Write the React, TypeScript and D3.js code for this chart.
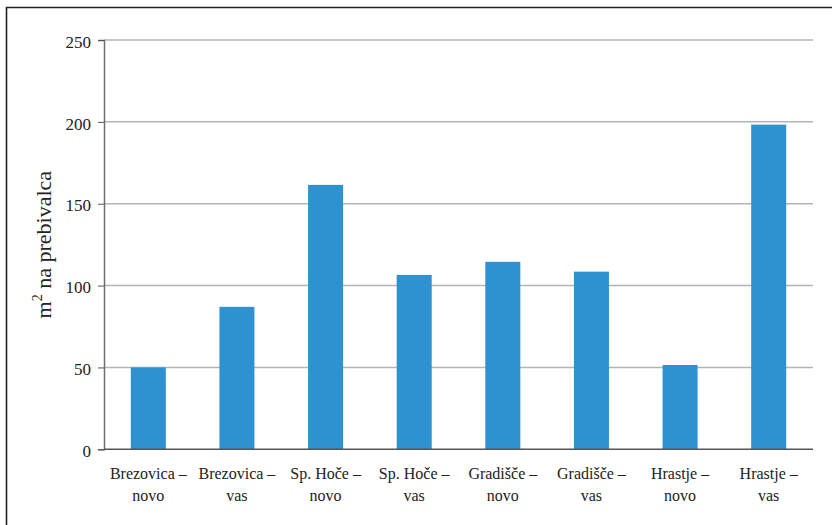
import React, { useEffect, useRef } from "react";
import * as d3 from "d3";

const categories: string[][] = [
  ["Brezovica –", "novo"],
  ["Brezovica –", "vas"],
  ["Sp. Hoče –", "novo"],
  ["Sp. Hoče –", "vas"],
  ["Gradišče –", "novo"],
  ["Gradišče –", "vas"],
  ["Hrastje –", "novo"],
  ["Hrastje –", "vas"],
];
const values: number[] = [50, 87, 161.5, 106.5, 114.5, 108.5, 51.5, 198.3];
const yTicks: number[] = [0, 50, 100, 150, 200, 250];

const W = 832;
const H = 525;
const margin = { left: 104, right: 19, top: 40, bottom: 75.7 };
const FONT = "Liberation Serif, Tinos, Times New Roman, DejaVu Serif, serif";

export default function App() {
  const ref = useRef<SVGSVGElement>(null);

  useEffect(() => {
    const svg = d3.select(ref.current);
    svg.selectAll("*").remove();

    const x0 = margin.left;
    const x1 = W - margin.right;
    const y0 = H - margin.bottom;
    const y1 = margin.top;

    const keys = categories.map((c) => c.join(" "));
    const x = d3.scaleBand<string>().domain(keys).range([x0, x1]).paddingInner(0.605).paddingOuter(0.3025);
    const y = d3.scaleLinear().domain([0, 250]).range([y0, y1]);

    // outer frame
    svg
      .append("path")
      .attr("d", `M6.5,${H + 2} L6.5,7.5 L${W + 2},7.5`)
      .attr("fill", "none")
      .attr("stroke", "#222")
      .attr("stroke-width", 1.6);

    // gridlines
    svg
      .append("g")
      .selectAll("line")
      .data(yTicks.filter((t) => t > 0))
      .join("line")
      .attr("x1", x0)
      .attr("x2", x1)
      .attr("y1", (d) => y(d))
      .attr("y2", (d) => y(d))
      .attr("stroke", "#b4b4b4")
      .attr("stroke-width", 1.5);

    // bars
    svg
      .append("g")
      .selectAll("rect")
      .data(values)
      .join("rect")
      .attr("x", (_, i) => x(keys[i]) as number)
      .attr("width", x.bandwidth())
      .attr("y", (d) => y(d))
      .attr("height", (d) => y(0) - y(d))
      .attr("fill", "#2e91d0");

    // y axis
    const yAxis = d3
      .axisLeft(y)
      .tickValues(yTicks)
      .tickSize(6)
      .tickPadding(7)
      .tickFormat((d) => String(d));
    const ga = svg.append("g").attr("transform", `translate(${x0},0)`).call(yAxis);
    ga.attr("font-family", null).attr("font-size", null);
    ga.select(".domain").attr("stroke", "#6e6e6e").attr("stroke-width", 1.5);
    ga.selectAll(".tick line").attr("stroke", "#555").attr("stroke-width", 1);
    ga.selectAll(".tick text")
      .style("font-family", FONT)
      .style("font-size", "17px")
      .attr("fill", "#222")
      .attr("dy", "0.42em");

    // x baseline
    svg
      .append("line")
      .attr("x1", x0)
      .attr("x2", x1)
      .attr("y1", y0)
      .attr("y2", y0)
      .attr("stroke", "#555")
      .attr("stroke-width", 1.5);

    // category labels
    const lab = svg
      .append("g")
      .selectAll("text")
      .data(categories)
      .join("text")
      .attr("x", (_, i) => (x(keys[i]) as number) + x.bandwidth() / 2)
      .attr("y", 479)
      .attr("text-anchor", "middle")
      .style("font-family", FONT)
      .style("font-size", "16px")
      .attr("fill", "#222");
    lab
      .selectAll("tspan")
      .data((d) => d)
      .join("tspan")
      .attr("x", function () {
        return (this as SVGTSpanElement).parentElement!.getAttribute("x");
      })
      .attr("dy", (_, j) => (j === 0 ? 0 : 22))
      .text((d) => d);

    // y title
    const t = svg
      .append("text")
      .attr("transform", `translate(51,${(y0 + y1) / 2}) rotate(-90)`)
      .attr("text-anchor", "middle")
      .style("font-family", FONT)
      .style("font-size", "22px")
      .attr("fill", "#222");
    t.append("tspan").text("m");
    t.append("tspan").style("font-size", "14px").attr("dy", -9).text("2");
    t.append("tspan").attr("dy", 9).text(" na prebivalca");
  }, []);

  return (
    <svg
      ref={ref}
      width={W}
      height={H}
      style={{ position: "absolute", left: 0, top: 0, background: "#fff" }}
    />
  );
}
